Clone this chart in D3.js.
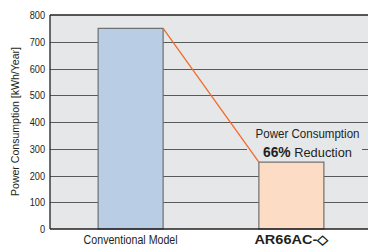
<!DOCTYPE html>
<html><head><meta charset="utf-8">
<script src="https://cdn.jsdelivr.net/npm/d3@7"></script>
<style>body{margin:0;background:#fff}svg{display:block}</style>
</head><body><svg id="c" width="368" height="248"></svg>
<script>
const categories = ["Conventional Model", "AR66AC-\u25C7"];
const values = [750, 250];
const yTicks = [0,100,200,300,400,500,600,700,800];
const yLabel = "Power Consumption [kWh/Year]";
const noteLine1 = "Power Consumption";
const noteBold = "66%";
const noteRest = " Reduction";

const FONT = "'Liberation Sans',Arial,sans-serif";
function condense(sel, f){
  sel.each(function(){
    const w = this.getComputedTextLength();
    d3.select(this).attr("textLength", w*f).attr("lengthAdjust","spacingAndGlyphs");
  });
}
const svg = d3.select("#c");
const m = {l:50, t:15, r:368, b:229};
const x = d3.scaleBand().domain(categories).range([m.l, 372]).paddingInner(0.595).paddingOuter(0.299);
const y = d3.scaleLinear().domain([0,800]).range([m.b, m.t]);

svg.append("rect").attr("x",m.l).attr("y",m.t).attr("width",m.r-m.l).attr("height",m.b-m.t).attr("fill","#e6e7e8");

svg.append("g").selectAll("line").data(yTicks.filter(d=>d>0&&d<800)).join("line")
  .attr("x1",m.l).attr("x2",m.r).attr("y1",d=>Math.round(y(d))+0.5).attr("y2",d=>Math.round(y(d))+0.5)
  .attr("stroke","#58595b").attr("stroke-width",1);

const nx = 307.5;
svg.append("rect").attr("x",247).attr("y",y(300)-4).attr("width",115).attr("height",8).attr("fill","#e6e7e8");

const colors = ["#b9cde5","#fcdcc4"];
const bw = 65;
svg.append("g").selectAll("rect").data(values).join("rect")
  .attr("x",(d,i)=>x(categories[i]) + x.bandwidth()/2 - bw/2)
  .attr("y",d=>y(d)).attr("width",bw).attr("height",d=>m.b-y(d))
  .attr("fill",(d,i)=>colors[i]).attr("stroke","#6d6e71").attr("stroke-width",1.2);

svg.append("line")
  .attr("x1",x(categories[0])+x.bandwidth()/2+bw/2).attr("y1",y(values[0]))
  .attr("x2",x(categories[1])+x.bandwidth()/2-bw/2).attr("y2",y(values[1]))
  .attr("stroke","#f26b2a").attr("stroke-width",1.3);

svg.append("line").attr("x1",m.l).attr("x2",m.r).attr("y1",m.t).attr("y2",m.t).attr("stroke","#231f20").attr("stroke-width",1.5);
svg.append("line").attr("x1",m.l).attr("x2",m.r).attr("y1",m.b).attr("y2",m.b).attr("stroke","#231f20").attr("stroke-width",1.3);
svg.append("line").attr("x1",m.l).attr("x2",m.l).attr("y1",m.t).attr("y2",m.b).attr("stroke","#231f20").attr("stroke-width",1.3);

const ya = d3.axisLeft(y).tickValues(yTicks).tickSize(0).tickPadding(5);
const g = svg.append("g").attr("transform",`translate(${m.l},0)`).call(ya);
g.select(".domain").remove();
g.selectAll("text").attr("font-family",FONT).attr("font-size",11.5).attr("fill","#231f20").call(condense,0.8);

svg.append("text").attr("transform",`translate(19,121.5) rotate(-90)`)
  .attr("text-anchor","middle").attr("font-family",FONT).attr("font-size",11.5).attr("fill","#231f20").text(yLabel)
  .attr("textLength",149).attr("lengthAdjust","spacingAndGlyphs");

const xa = d3.axisBottom(x).tickSize(0).tickPadding(5);
const gx = svg.append("g").attr("transform",`translate(0,${m.b})`).call(xa);
gx.select(".domain").remove();
gx.selectAll("text").attr("font-family",FONT).attr("font-size",(d,i)=>i===1?13:12).attr("fill","#231f20")
  .attr("font-weight",(d,i)=>i===1?"bold":"normal").attr("dy","0.8em")
  .attr("textLength",(d,i)=>i===1?74:94).attr("lengthAdjust","spacingAndGlyphs");

svg.append("text").attr("x",nx).attr("y",137.5).attr("text-anchor","middle")
  .attr("font-family",FONT).attr("font-size",12.5).attr("fill","#231f20").text(noteLine1)
  .attr("textLength",104).attr("lengthAdjust","spacingAndGlyphs");
const t2 = svg.append("text").attr("x",nx).attr("y",156.5).attr("text-anchor","middle")
  .attr("font-family",FONT).attr("font-size",13).attr("fill","#231f20")
  .attr("textLength",89).attr("lengthAdjust","spacingAndGlyphs");
t2.append("tspan").attr("font-weight","bold").attr("font-size",14).text(noteBold);
t2.append("tspan").text(noteRest);
</script></body></html>
